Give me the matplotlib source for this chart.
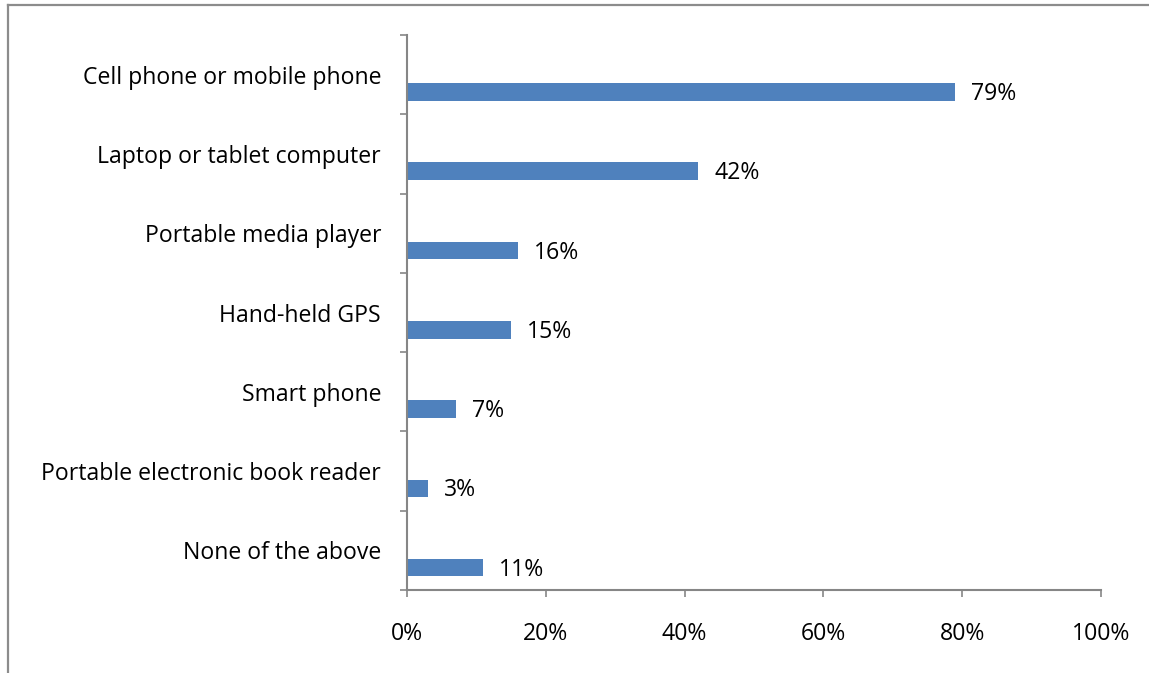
import matplotlib.pyplot as plt
from matplotlib.lines import Line2D
from matplotlib.ticker import FuncFormatter

devices = ["Cell phone or mobile phone", "Laptop or tablet computer",
           "Portable media player", "Hand-held GPS", "Smart phone",
           "Portable electronic book reader", "None of the above"]
shares = [79, 42, 16, 15, 7, 3, 11]
xticks = [0, 20, 40, 60, 80, 100]

bar_color = "#4F81BD"
axis_color = "#868686"
plt.rcParams['font.family'] = ['Open Sans', 'DejaVu Sans']
fs = 16.6

fig = plt.figure(figsize=(11.49, 6.73), dpi=100)
ax = fig.add_axes([407/1149, 1 - 590/673, (1101 - 407)/1149, (590 - 35)/673])

# bars sit in the lower part of each category band
pos = [i + 0.218 for i in range(len(devices))]
ax.barh(pos, shares, height=0.22, color=bar_color)
for p, v in zip(pos, shares):
    ax.annotate(f"{v}%", (v, p), xytext=(11.5, -1.5), textcoords="offset points",
                va="center", ha="left", fontsize=fs, color="black")

ax.set_xlim(0, 100)
ax.set_ylim(len(devices) - 0.5, -0.5)
ax.set_xticks(xticks)
ax.xaxis.set_major_formatter(FuncFormatter(lambda x, _: f"{x:.0f}%"))
ax.set_yticks(range(len(devices)))
ax.set_yticklabels(devices)
ax.set_yticks([i - 0.5 for i in range(len(devices) + 1)], minor=True)

ax.tick_params(axis="y", which="major", length=0, pad=18.7, labelsize=fs)
ax.tick_params(axis="y", which="minor", length=5, width=1.2, color=axis_color)
ax.tick_params(axis="x", length=5, width=1.2, color=axis_color, pad=18, labelsize=fs)

for side in ("top", "right"):
    ax.spines[side].set_visible(False)
for side in ("left", "bottom"):
    ax.spines[side].set_color(axis_color)
    ax.spines[side].set_linewidth(1.5)

# chart area frame
fig.add_artist(Line2D([8/1149, 8/1149], [0, 1 - 5/673], color="#8C8C8C", lw=1.6))
fig.add_artist(Line2D([8/1149, 1], [1 - 5/673, 1 - 5/673], color="#8C8C8C", lw=1.6))

fig.savefig("out.png", dpi=100)
